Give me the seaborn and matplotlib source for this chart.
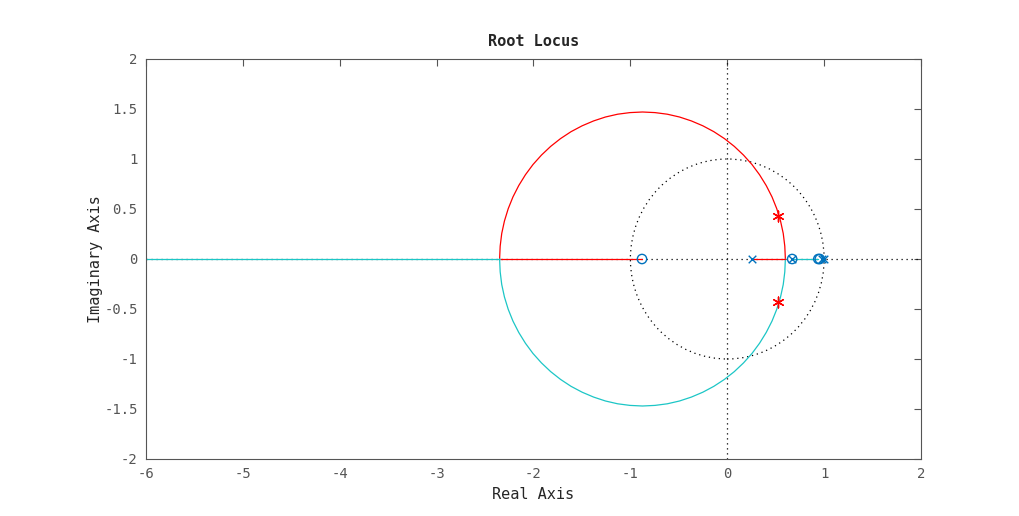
import matplotlib
matplotlib.use("Agg")
import matplotlib.pyplot as plt
import pandas as pd
import seaborn as sns

# upper branch (red) and lower branch (cyan) of the locus
arc_x = [0.600, 0.594, 0.578, 0.550, 0.511, 0.462, 0.402, 0.333, 0.255, 0.168,
         0.073, -0.029, -0.138, -0.252, -0.371, -0.493, -0.619, -0.746, -0.875,
         -1.004, -1.131, -1.257, -1.379, -1.498, -1.613, -1.721, -1.823, -1.918,
         -2.005, -2.083, -2.152, -2.212, -2.261, -2.300, -2.328, -2.344, -2.350]
arc_y = [0.000, 0.128, 0.255, 0.380, 0.503, 0.621, 0.735, 0.843, 0.945, 1.039,
         1.126, 1.204, 1.273, 1.332, 1.381, 1.420, 1.448, 1.464, 1.470,
         1.464, 1.448, 1.420, 1.381, 1.332, 1.273, 1.204, 1.126, 1.039,
         0.945, 0.843, 0.735, 0.621, 0.503, 0.380, 0.255, 0.128, 0.000]

# real-axis segments
red_real = [(-2.35, -0.88), (0.26, 0.60)]
cyan_real = [(-6.0, -2.35), (0.67, 0.94)]

poles = [0.26, 0.67, 0.98, 1.00]
zeros = [-0.88, 0.67, 0.94, 0.955]
star_x = [0.52, 0.52]
star_y = [0.43, -0.43]

RED = "#ff0000"
CYAN = "#1cc6c6"
BLUE = "#0072bd"

sns.set_style("white")
plt.rcParams["font.family"] = ["DejaVu Sans Mono"]

fig = plt.figure(figsize=(10.2, 5.16), dpi=100)
ax = fig.add_axes([146 / 1020, 57 / 516, 775 / 1020, 400 / 516])

# grid references: unit circle and axes
ax.add_patch(plt.Circle((0, 0), 1, fill=False, ls=(0, (1, 3)), lw=0.9, color="black"))
ax.axhline(0, ls=(0, (1, 3)), lw=0.9, color="black", zorder=1)
ax.axvline(0, ls=(0, (1, 3)), lw=0.9, color="black", zorder=1)

upper = pd.DataFrame({"x": arc_x, "y": arc_y})
lower = pd.DataFrame({"x": arc_x, "y": [-v for v in arc_y]})
sns.lineplot(data=upper, x="x", y="y", sort=False, estimator=None, color=RED, lw=0.9, ax=ax)
sns.lineplot(data=lower, x="x", y="y", sort=False, estimator=None, color=CYAN, lw=0.9, ax=ax)
for a, b in red_real:
    seg = pd.DataFrame({"x": [a, b], "y": [0, 0]})
    sns.lineplot(data=seg, x="x", y="y", sort=False, estimator=None, color=RED, lw=0.9, ax=ax)
for a, b in cyan_real:
    seg = pd.DataFrame({"x": [a, b], "y": [0, 0]})
    sns.lineplot(data=seg, x="x", y="y", sort=False, estimator=None, color=CYAN, lw=0.9, ax=ax)

sns.scatterplot(x=poles, y=[0] * len(poles), marker="x", color=BLUE, s=30, linewidth=1.0, ax=ax, zorder=5)
sns.scatterplot(x=zeros, y=[0] * len(zeros), marker="o", facecolor="none", edgecolor=BLUE, s=45,
                linewidth=1.0, ax=ax, zorder=5)
sns.scatterplot(x=star_x, y=star_y, marker=(6, 2, 0), color=RED, s=60, linewidth=1.0, ax=ax, zorder=6)

ax.set_xlim(-6, 2)
ax.set_ylim(-2, 2)
ax.set_xticks(range(-6, 3))
ax.set_yticks([-2, -1.5, -1, -0.5, 0, 0.5, 1, 1.5, 2])
ax.set_yticklabels(["-2", "-1.5", "-1", "-0.5", "0", "0.5", "1", "1.5", "2"])
ax.set_xticklabels([str(v) for v in range(-6, 3)])
ax.tick_params(direction="in", length=5, width=0.8, color="#555555", labelcolor="#555555",
               labelsize=10, top=True, right=True, pad=6)
for sp in ax.spines.values():
    sp.set_color("#555555")
    sp.set_linewidth(0.8)

ax.set_title("Root Locus", fontsize=11, fontweight="bold", pad=9)
ax.set_xlabel("Real Axis", fontsize=11, labelpad=4)
ax.set_ylabel("Imaginary Axis", fontsize=11, labelpad=1)

fig.savefig("out.png", dpi=100)
